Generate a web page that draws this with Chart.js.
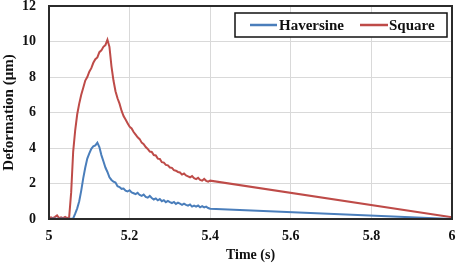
<!DOCTYPE html>
<html>
<head>
<meta charset="utf-8">
<script src="https://cdn.jsdelivr.net/npm/chart.js@4/dist/chart.umd.min.js"></script>
<style>
  html, body { margin: 0; padding: 0; background: #fff; }
  #wrap { width: 457px; height: 264px; }
</style>
</head>
<body>
<div id="wrap"><canvas id="chart" width="457" height="264"></canvas></div>
<script>
// sampled time points (s), 5.000 .. 5.400 every 0.005, then the end point at 6
const times = [
  5.000, 5.005, 5.010, 5.015, 5.020, 5.025, 5.030, 5.035, 5.040, 5.045,
  5.050, 5.055, 5.060, 5.065, 5.070, 5.075, 5.080, 5.085, 5.090, 5.095,
  5.100, 5.105, 5.110, 5.115, 5.120, 5.125, 5.130, 5.135, 5.140, 5.145,
  5.150, 5.155, 5.160, 5.165, 5.170, 5.175, 5.180, 5.185, 5.190, 5.195,
  5.200, 5.205, 5.210, 5.215, 5.220, 5.225, 5.230, 5.235, 5.240, 5.245,
  5.250, 5.255, 5.260, 5.265, 5.270, 5.275, 5.280, 5.285, 5.290, 5.295,
  5.300, 5.305, 5.310, 5.315, 5.320, 5.325, 5.330, 5.335, 5.340, 5.345,
  5.350, 5.355, 5.360, 5.365, 5.370, 5.375, 5.380, 5.385, 5.390, 5.395,
  5.400, 6.000
];

// Haversine deformation (um)
const haversine = [
  0.02, 0.00, 0.03, 0.01, 0.02, 0.00, 0.03, 0.01, 0.02, 0.00,
  0.02, 0.01, 0.03, 0.30, 0.60, 1.00, 1.60, 2.30, 2.90, 3.40,
  3.70, 3.95, 4.10, 4.15, 4.30, 4.05, 3.60, 3.25, 2.90, 2.65,
  2.35, 2.20, 2.10, 2.05, 1.85, 1.80, 1.70, 1.72, 1.60, 1.55,
  1.62, 1.50, 1.45, 1.40, 1.48, 1.35, 1.30, 1.38, 1.25, 1.20,
  1.30, 1.18, 1.10, 1.16, 1.05, 1.12, 1.00, 1.06, 0.95, 1.02,
  0.95, 0.90, 0.96, 0.85, 0.92, 0.86, 0.80, 0.87, 0.80, 0.75,
  0.82, 0.70, 0.76, 0.70, 0.76, 0.66, 0.72, 0.65, 0.70, 0.62,
  0.58, 0.00
];

// Square deformation (um)
const square = [
  0.05, 0.10, 0.05, 0.12, 0.20, 0.05, 0.10, 0.05, 0.12, 0.05,
  0.10, 1.50, 3.80, 5.00, 5.90, 6.50, 7.00, 7.40, 7.80, 8.00,
  8.30, 8.50, 8.80, 9.00, 9.10, 9.40, 9.50, 9.70, 9.80, 10.10,
  9.70, 8.60, 7.80, 7.20, 6.80, 6.50, 6.10, 5.80, 5.60, 5.40,
  5.20, 5.10, 4.90, 4.75, 4.60, 4.50, 4.30, 4.22, 4.05, 3.95,
  3.80, 3.78, 3.60, 3.58, 3.40, 3.38, 3.20, 3.18, 3.05, 3.02,
  2.90, 2.88, 2.75, 2.72, 2.65, 2.62, 2.50, 2.56, 2.45, 2.40,
  2.35, 2.42, 2.30, 2.25, 2.32, 2.20, 2.16, 2.26, 2.15, 2.10,
  2.16, 0.10
];

const seriesNames = ['Haversine', 'Square'];
const seriesColors = ['#4a7ebb', '#be4b48'];

const serif = "'Liberation Serif', 'Times New Roman', serif";

function toPoints(vals) {
  return vals.map((v, i) => ({ x: times[i], y: v }));
}

// frame around the plot area + legend box in the top right
const framePlugin = {
  id: 'frame',
  afterDraw(chart) {
    const { ctx, chartArea: a } = chart;
    ctx.save();
    ctx.strokeStyle = '#2b2b2b';
    ctx.lineWidth = 2;
    ctx.strokeRect(a.left, a.top, a.right - a.left, a.bottom - a.top);

    // legend
    const bx = 235, by = 13, bw = 212, bh = 24;
    ctx.fillStyle = '#fff';
    ctx.fillRect(bx, by, bw, bh);
    ctx.strokeStyle = '#111';
    ctx.lineWidth = 1.5;
    ctx.strokeRect(bx, by, bw, bh);
    ctx.font = 'bold 15px ' + serif;
    ctx.textBaseline = 'middle';
    ctx.fillStyle = '#111';
    const items = [
      { x0: 250, x1: 277, tx: 279 },
      { x0: 360, x1: 388, tx: 389 }
    ];
    items.forEach((it, i) => {
      ctx.strokeStyle = seriesColors[i];
      ctx.lineWidth = 2.5;
      ctx.beginPath();
      ctx.moveTo(it.x0, by + bh / 2);
      ctx.lineTo(it.x1, by + bh / 2);
      ctx.stroke();
      ctx.fillText(seriesNames[i], it.tx, by + bh / 2 + 1);
    });
    ctx.restore();
  }
};

const ctx = document.getElementById('chart').getContext('2d');
const chart = new Chart(ctx, {
  type: 'line',
  data: {
    datasets: [
      {
        label: seriesNames[0],
        data: toPoints(haversine),
        borderColor: seriesColors[0],
        borderWidth: 2,
        pointRadius: 0,
        tension: 0
      },
      {
        label: seriesNames[1],
        data: toPoints(square),
        borderColor: seriesColors[1],
        borderWidth: 2,
        pointRadius: 0,
        tension: 0
      }
    ]
  },
  options: {
    responsive: false,
    animation: false,
    layout: { padding: { top: 6, right: 5, left: 0, bottom: 0 } },
    plugins: {
      legend: { display: false },
      tooltip: { enabled: false }
    },
    scales: {
      x: {
        type: 'linear',
        min: 5,
        max: 6,
        afterFit(scale) {
          scale.height = 45;
          scale.paddingLeft = 0;
          scale.paddingRight = 0;
        },
        ticks: {
          stepSize: 0.2,
          padding: 9,
          color: '#111',
          font: { family: serif, size: 14, weight: 'bold' },
          callback: (v) => String(Number(v.toFixed(1)))
        },
        grid: { color: '#d9d9d9', lineWidth: 1, tickLength: 0 },
        border: { color: '#2b2b2b', width: 2 },
        title: {
          display: true,
          text: 'Time (s)',
          color: '#111',
          font: { family: serif, size: 14, weight: 'bold' },
          padding: { top: 2, bottom: 0 }
        }
      },
      y: {
        min: 0,
        max: 12,
        afterFit(scale) {
          scale.width = 49;
          scale.paddingTop = 0;
          scale.paddingBottom = 0;
        },
        ticks: {
          stepSize: 2,
          padding: 13,
          color: '#111',
          font: { family: serif, size: 14, weight: 'bold' }
        },
        grid: { color: '#d9d9d9', lineWidth: 1, tickLength: 0 },
        border: { color: '#2b2b2b', width: 2 },
        title: {
          display: true,
          text: 'Deformation (\u03bcm)',
          color: '#111',
          font: { family: serif, size: 15, weight: 'bold' },
          padding: { top: 0, bottom: 0 }
        }
      }
    }
  },
  plugins: [framePlugin]
});
</script>
</body>
</html>
